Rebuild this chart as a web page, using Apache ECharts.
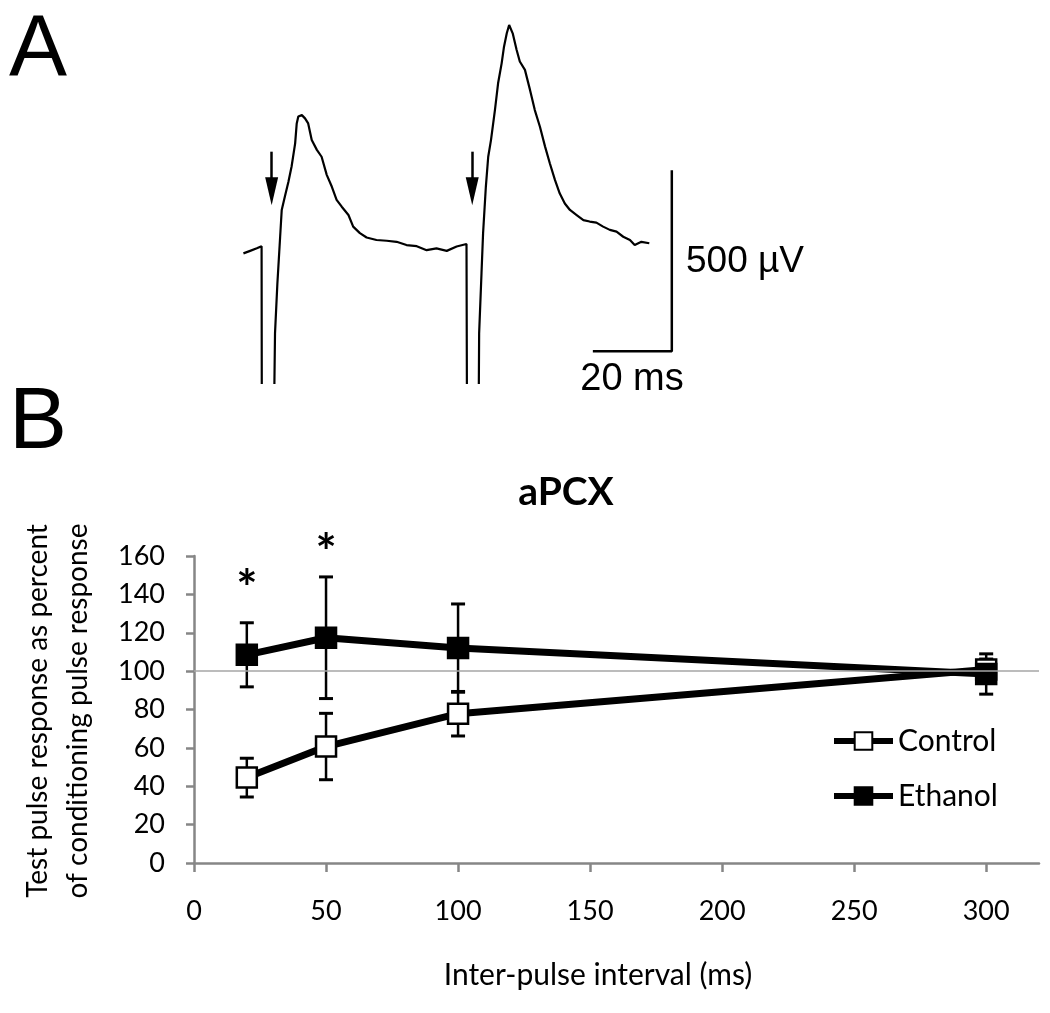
<!DOCTYPE html>
<html><head><meta charset="utf-8">
<script src="https://cdn.jsdelivr.net/npm/echarts@6/dist/echarts.min.js"></script>
<style>html,body{margin:0;padding:0;background:#fff}#c{width:1050px;height:1013px}</style>
</head><body><div id="c"></div>
<script>
// ---------- Panel A: field potential trace, [time (ms), amplitude (µV)] ----------
const traceA = [
  [3.4,358],[5.1,365],[6.8,372],[8.0,378],[8.1,-400],[10.8,-400],
  [11.4,137],[12.0,275],[12.7,404],[13.1,478],[13.9,515],[14.8,556],[15.6,598],[16.5,662],
  [16.9,717],[17.3,736],[18.2,740],[19.0,731],[19.8,717],[20.7,671],[22.0,644],[23.2,625],
  [24.5,575],[25.8,542],[27.0,506],[28.3,487],[30.0,464],[31.2,432],[32.9,414],[34.6,402],
  [37.1,395],[39.7,393],[42.2,390],[44.7,381],[47.3,378],[49.8,367],[52.3,372],[54.9,365],
  [57.4,377],[59.9,384],[60.1,-400],[62.8,-400],
  [63.1,137],[63.7,303],[64.1,414],[64.8,542],[65.4,625],[66.1,671],[67.1,754],[67.9,828],
  [68.8,883],[69.4,929],[70.1,966],[70.7,989],[71.6,966],[72.6,920],[73.4,888],[74.7,865],
  [76.0,809],[77.2,754],[78.5,708],[79.8,653],[81.0,607],[82.3,561],[83.5,524],[84.8,496],
  [86.1,478],[87.8,464],[89.5,450],[91.1,446],[92.8,443],[94.5,432],[96.2,423],[97.9,418],
  [99.6,404],[101.3,395],[102.5,381],[104.2,390],[106.2,386]
];
const stimArrowTimes = [10.55, 61.35];   // ms
const stimArrowFrom = 639;               // µV
const stimArrowTo = 530;                 // µV
const scaleBarOrigin = [91.9, 88];       // ms, µV
const scaleBarMs = 20;
const scaleBarUv = 500;

// ---------- Panel B ----------
const intervals = [20, 50, 100, 300];
const controlMean = [44.5, 60.7, 77.8, 100.8];
const controlErr  = [10.1, 17.3, 11.6, 5.5];
const ethanolMean = [108.5, 117.4, 112.0, 98.5];
const ethanolErr  = [16.7, 31.7, 23.0, 10.5];
const xTicks = [0, 50, 100, 150, 200, 250, 300];
const starX = [20, 50];
const starY = [149, 168];

const FONT = 'Lato';
const chart = echarts.init(document.getElementById('c'), null, {renderer: 'canvas'});

function errRender(params, api) {
  const x = api.value(0), lo = api.value(1), hi = api.value(2);
  const a = api.coord([x, lo]), b = api.coord([x, hi]);
  const w = 7;
  const s = {stroke: '#000', lineWidth: 2.5};
  const c = {stroke: '#000', lineWidth: 3};
  return {type: 'group', children: [
    {type: 'line', shape: {x1: a[0], y1: a[1], x2: b[0], y2: b[1]}, style: s},
    {type: 'line', shape: {x1: a[0]-w, y1: a[1], x2: a[0]+w, y2: a[1]}, style: c},
    {type: 'line', shape: {x1: b[0]-w, y1: b[1], x2: b[0]+w, y2: b[1]}, style: c}
  ]};
}

function starRender(params, api) {
  const p = api.coord([api.value(0), api.value(1)]);
  return {type: 'text', x: p[0], y: p[1] + 13,
    style: {text: '*', fill: '#000', fontFamily: FONT, fontWeight: 'bold', fontSize: 50,
            align: 'center', verticalAlign: 'middle'}};
}

const option = {
  animation: false,
  backgroundColor: '#fff',
  grid: [
    {left: 230, top: 21, width: 458, height: 362},
    {left: 194, top: 556, width: 845, height: 307}
  ],
  xAxis: [
    {gridIndex: 0, type: 'value', min: 0, max: 116, show: false},
    {gridIndex: 1, type: 'value', min: 0, max: 320, interval: 50,
     axisLine: {show: true, lineStyle: {color: '#868686', width: 2.5}},
     axisTick: {show: true, length: 9, customValues: xTicks, lineStyle: {color: '#868686', width: 2.5}},
     axisLabel: {customValues: xTicks, margin: 35, fontFamily: FONT, fontSize: 27, color: '#000'},
     splitLine: {show: false}}
  ],
  yAxis: [
    {gridIndex: 0, type: 'value', min: 0, max: 1000, show: false},
    {gridIndex: 1, type: 'value', min: 0, max: 160, interval: 20,
     axisLine: {show: true, lineStyle: {color: '#868686', width: 2.5}},
     axisTick: {show: true, length: 8, lineStyle: {color: '#868686', width: 2.5}},
     axisLabel: {margin: 29, fontFamily: FONT, fontSize: 27, color: '#000'},
     splitLine: {show: false}}
  ],
  legend: {
    data: ['Control', 'Ethanol'], orient: 'vertical', left: 831, top: 726,
    itemWidth: 59, itemHeight: 22, itemGap: 25, padding: 0,
    lineStyle: {width: 6},
    itemStyle: {borderWidth: 2},
    textStyle: {fontFamily: FONT, fontSize: 30, color: '#000'},
    selectedMode: false
  },
  series: [
    {type: 'line', xAxisIndex: 0, yAxisIndex: 0, data: traceA, showSymbol: false, symbol: 'none',
     lineStyle: {color: '#000', width: 2.2}, clip: true, silent: true, z: 2,
     markLine: {silent: true, symbol: ['none', 'triangle'], symbolSize: [13, 28],
       label: {show: false}, lineStyle: {color: '#000', width: 2.5, type: 'solid'},
       data: stimArrowTimes.map(t => [{coord: [t, stimArrowFrom]}, {coord: [t, stimArrowTo]}])}},
    {type: 'line', xAxisIndex: 0, yAxisIndex: 0, showSymbol: false, symbol: 'none', silent: true,
     lineStyle: {color: '#000', width: 2.5}, clip: false,
     data: [[scaleBarOrigin[0], scaleBarOrigin[1]],
            [scaleBarOrigin[0] + scaleBarMs, scaleBarOrigin[1]],
            [scaleBarOrigin[0] + scaleBarMs, scaleBarOrigin[1] + scaleBarUv]]},
    {name: 'ref', type: 'line', xAxisIndex: 1, yAxisIndex: 1, data: [], z: 1, silent: true,
     markLine: {silent: true, symbol: 'none', label: {show: false},
       lineStyle: {color: '#a6a6a6', width: 1.5, type: 'solid'}, data: [{yAxis: 100}]}},
    {type: 'custom', xAxisIndex: 1, yAxisIndex: 1, renderItem: errRender, z: 2, silent: true,
     encode: {x: 0, y: [1, 2]},
     data: intervals.map((x, i) => [x, controlMean[i] - controlErr[i], controlMean[i] + controlErr[i]])},
    {type: 'custom', xAxisIndex: 1, yAxisIndex: 1, renderItem: errRender, z: 2, silent: true,
     encode: {x: 0, y: [1, 2]},
     data: intervals.map((x, i) => [x, ethanolMean[i] - ethanolErr[i], ethanolMean[i] + ethanolErr[i]])},
    {name: 'Control', type: 'line', xAxisIndex: 1, yAxisIndex: 1, z: 3, silent: true,
     data: intervals.map((x, i) => [x, controlMean[i]]),
     symbol: 'rect', symbolSize: 20, showSymbol: true,
     lineStyle: {color: '#000', width: 7},
     itemStyle: {color: '#fff', borderColor: '#000', borderWidth: 2.5}},
    {name: 'Ethanol', type: 'line', xAxisIndex: 1, yAxisIndex: 1, z: 4, silent: true,
     data: intervals.map((x, i) => [x, ethanolMean[i]]),
     symbol: 'rect', symbolSize: 20, showSymbol: true,
     lineStyle: {color: '#000', width: 7},
     itemStyle: {color: '#000', borderColor: '#000', borderWidth: 2.5}},
    {type: 'custom', xAxisIndex: 1, yAxisIndex: 1, z: 5, silent: true, clip: false,
     renderItem: starRender, encode: {x: 0, y: 1},
     data: starX.map((x, i) => [x, starY[i]])}
  ],
  graphic: [
    {type: 'text', x: 38, y: 52, style: {text: 'A', fontFamily: 'Liberation Sans', fontSize: 87, fill: '#000', align: 'center', verticalAlign: 'middle'}},
    {type: 'text', x: 38, y: 424, style: {text: 'B', fontFamily: 'Liberation Sans', fontSize: 87, fill: '#000', align: 'center', verticalAlign: 'middle'}},
    {type: 'text', x: 686, y: 262, style: {text: '500 \u00b5V', fontFamily: 'Liberation Sans', fontSize: 37, fill: '#000', align: 'left', verticalAlign: 'middle'}},
    {type: 'text', x: 632, y: 380, style: {text: '20 ms', fontFamily: 'Liberation Sans', fontSize: 38, fill: '#000', align: 'center', verticalAlign: 'middle'}},
    {type: 'text', x: 566, y: 492, style: {text: 'aPCX', fontFamily: FONT, fontWeight: 'bold', fontSize: 39, fill: '#000', align: 'center', verticalAlign: 'middle'}},
    {type: 'text', x: 598, y: 975, style: {text: 'Inter-pulse interval (ms)', fontFamily: FONT, fontSize: 30, fill: '#000', align: 'center', verticalAlign: 'middle'}},
    {type: 'text', x: 38, y: 711, rotation: Math.PI / 2, style: {text: 'Test pulse response as percent', fontFamily: FONT, fontSize: 28, fill: '#000', align: 'center', verticalAlign: 'middle'}},
    {type: 'text', x: 78, y: 711, rotation: Math.PI / 2, style: {text: 'of conditioning pulse response', fontFamily: FONT, fontSize: 28, fill: '#000', align: 'center', verticalAlign: 'middle'}}
  ]
};
chart.setOption(option);
</script>
</body></html>
